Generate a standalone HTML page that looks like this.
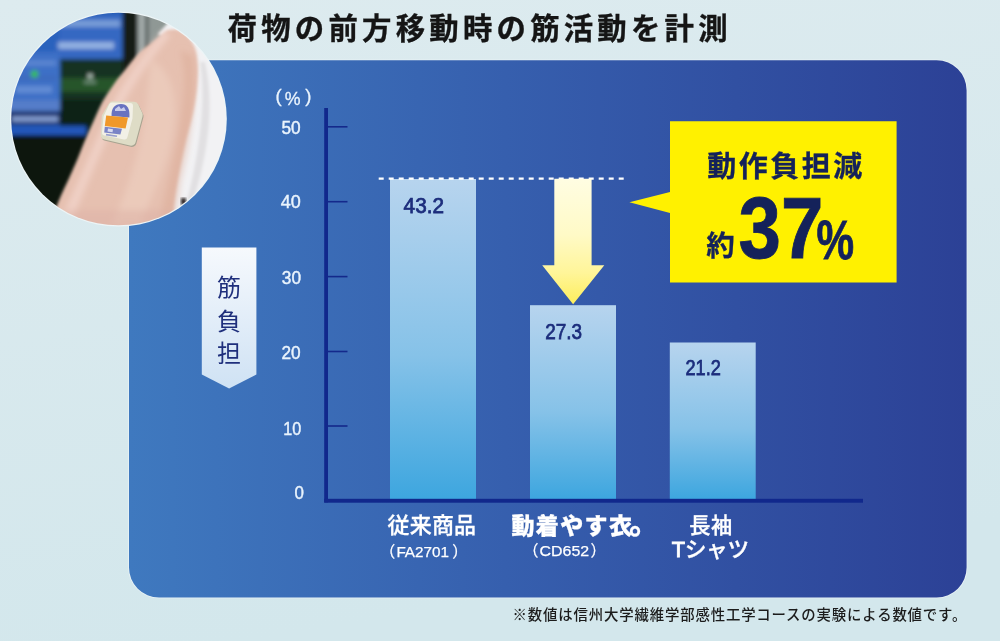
<!DOCTYPE html>
<html lang="ja">
<head>
<meta charset="utf-8">
<title>荷物の前方移動時の筋活動を計測</title>
<style>
  html, body { margin: 0; padding: 0; }
  body { width: 1000px; height: 641px; overflow: hidden; background: #d8e9ee; }
  svg { display: block; }
  text { font-family: "Liberation Sans", "Noto Sans CJK JP", sans-serif; }
  .jp { font-family: "Liberation Sans", "Noto Sans CJK JP", sans-serif; }
  .num { font-family: "Liberation Sans", "Noto Sans CJK JP", sans-serif; }
</style>
</head>
<body>
<svg width="1000" height="641" viewBox="0 0 1000 641">
  <defs>
    <linearGradient id="bgG" x1="0" y1="0" x2="0.25" y2="1">
      <stop offset="0" stop-color="#ddebef"/>
      <stop offset="1" stop-color="#d3e7ec"/>
    </linearGradient>
    <linearGradient id="panelG" x1="0" y1="0" x2="1" y2="0">
      <stop offset="0" stop-color="#3f79bf"/>
      <stop offset="0.45" stop-color="#365fae"/>
      <stop offset="1" stop-color="#2c4196"/>
    </linearGradient>
    <linearGradient id="barG" x1="0" y1="0" x2="0" y2="1">
      <stop offset="0" stop-color="#b7d4ee"/>
      <stop offset="0.55" stop-color="#86c2e8"/>
      <stop offset="1" stop-color="#3da6df"/>
    </linearGradient>
    <linearGradient id="arrowG" x1="0" y1="0" x2="0" y2="1">
      <stop offset="0" stop-color="#fffde2"/>
      <stop offset="0.45" stop-color="#fffac6"/>
      <stop offset="0.75" stop-color="#fff599"/>
      <stop offset="1" stop-color="#fdee5c"/>
    </linearGradient>
    <linearGradient id="tagG" x1="0" y1="0" x2="0" y2="1">
      <stop offset="0" stop-color="#f6f9fd"/>
      <stop offset="1" stop-color="#cfe2f4"/>
    </linearGradient>
    <mask id="photoMask" maskUnits="userSpaceOnUse" x="0" y="0" width="240" height="240"><ellipse cx="118.4" cy="119.05" rx="107.2" ry="106.3" fill="#fff"/></mask>
    <filter id="blur1" x="-20%" y="-20%" width="140%" height="140%"><feGaussianBlur stdDeviation="0.7"/></filter>
    <filter id="blur2" x="-10%" y="-10%" width="120%" height="120%"><feGaussianBlur stdDeviation="1.5"/></filter>
    <filter id="blur3" x="-10%" y="-10%" width="120%" height="120%"><feGaussianBlur stdDeviation="2.2"/></filter>
    <filter id="blur4" x="-10%" y="-10%" width="120%" height="120%"><feGaussianBlur stdDeviation="3"/></filter>
  </defs>

  <!-- page background -->
  <rect x="0" y="0" width="1000" height="641" fill="url(#bgG)"/>

  <!-- blue panel -->
  <path d="M129 60.3 H936.6 A30 30 0 0 1 966.6 90.3 V567.5 A30 30 0 0 1 936.6 597.5 H159 A30 30 0 0 1 129 567.5 Z" fill="url(#panelG)" stroke="#e8f2f5" stroke-width="1.6" paint-order="stroke"/>

  <!-- PHOTO -->
  <g id="photo">
    <ellipse cx="118.4" cy="119.05" rx="108.4" ry="107.5" fill="#edf5f7"/>
    <g mask="url(#photoMask)">
      <rect x="0" y="0" width="240" height="240" fill="#0e1713"/>
      <g filter="url(#blur3)">
        <!-- monitor -->
        <rect x="0" y="0" width="124" height="136" fill="#2c62bd"/>
        <rect x="0" y="0" width="124" height="19" fill="#2258b0"/>
        <rect x="60" y="14" width="64" height="46" fill="#3468c2"/>
        <rect x="52" y="20" width="68" height="7" fill="#8dadde" opacity="0.75"/>
        <rect x="58" y="42" width="56" height="7" fill="#a3bde6" opacity="0.85"/>
        <rect x="18" y="60" width="38" height="6" fill="#7fa2dc" opacity="0.7"/>
        <rect x="10" y="76" width="46" height="4" fill="#274f9e" opacity="0.7"/>
        <rect x="16" y="86" width="36" height="7" fill="#8fb0e4" opacity="0.8"/>
        <rect x="0" y="52" width="60" height="59" fill="#4f7bcd" opacity="0.55"/>
        <rect x="0" y="100" width="60" height="11" fill="#5b81c9" opacity="0.8"/>
        <rect x="0" y="111" width="124" height="14" fill="#17316e"/>
        <rect x="12" y="116.5" width="46" height="5" fill="#9db6e6" opacity="0.85"/>
        <!-- green window -->
        <rect x="60" y="59" width="64" height="64" fill="#163321"/>
        <rect x="60" y="78" width="64" height="14" fill="#2a5a2e" opacity="0.85"/>
        <rect x="60" y="100" width="64" height="36" fill="#0f2018"/>
        <rect x="0" y="126" width="86" height="9" fill="#2456ba"/>
        <circle cx="34.5" cy="74" r="3.6" fill="#35c04a"/>
        <rect x="88" y="74" width="4.5" height="4.5" fill="#c9d6cf" opacity="0.9"/>
        <rect x="84" y="81" width="12" height="2.5" fill="#8fa89a" opacity="0.8"/>
        <!-- dark strip + grey wall -->
        <rect x="122.5" y="0" width="15.5" height="140" fill="#121d18"/>
        <rect x="138" y="0" width="8" height="60" fill="#a3abaa"/>
        <rect x="145.5" y="0" width="3" height="50" fill="#27332d"/>
        <rect x="148" y="0" width="40" height="46" fill="#8f9895"/>
        <rect x="0" y="135" width="130" height="110" fill="#0b1310"/>
      </g>
      <!-- shirt -->
      <g filter="url(#blur2)">
        <path d="M158 34 L172 18 L240 18 L240 240 L158 240 L168 190 L180 140 L186 90 L180 50 Z" fill="#f2f2f4"/>
        <path d="M205 62 C214 100 210 150 192 205 L186 205 C200 150 206 100 200 62 Z" fill="#d6d4d6" opacity="0.6"/>
      </g>
      <!-- arm -->
      <g filter="url(#blur2)">
        <path d="M167.4 30.0 C165.3 31.7 158.9 36.9 155.0 40.0 C151.1 43.1 147.0 45.8 143.7 48.7 C140.4 51.6 138.1 53.9 135.0 57.4 C131.9 60.9 128.3 65.8 125.0 70.0 C121.7 74.2 118.3 77.8 115.0 82.4 C111.7 87.0 107.5 93.3 105.0 97.4 C102.5 101.5 102.0 102.4 99.9 106.8 C97.8 111.2 94.9 118.0 92.4 123.6 C89.9 129.2 87.4 134.6 84.9 140.5 C82.4 146.4 79.9 153.3 77.4 159.2 C74.9 165.1 73.3 168.6 70.0 176.0 C66.7 183.4 61.9 192.9 57.6 203.6 C53.3 214.3 46.3 233.9 44.0 240.0 L170.0 240.0 C170.7 234.3 172.7 215.7 174.0 206.0 C175.3 196.3 175.8 192.0 177.6 182.0 C179.4 172.0 182.4 156.7 184.8 146.0 C187.2 135.3 190.2 125.7 192.0 118.0 C193.8 110.3 194.6 105.7 195.5 100.0 C196.4 94.3 197.0 89.5 197.4 84.0 C197.8 78.5 198.3 72.8 198.0 67.0 C197.7 61.2 197.1 54.4 195.5 49.5 C193.9 44.6 191.5 40.8 188.6 37.5 C185.7 34.2 181.5 31.2 178.0 30.0 C174.5 28.8 169.2 30.0 167.4 30.0 Z" fill="#e6c0b0"/>
      </g>
      <g filter="url(#blur4)">
        <path d="M164 30 C150 46 128 74 112 104 C98 134 80 180 62 216 L72 220 C88 182 106 140 120 110 C134 82 154 54 170 36 Z" fill="#f3d6cc" opacity="0.75"/>
        <path d="M152 60 C172 72 180 100 172 140 C166 170 150 200 140 224 L112 224 C128 190 140 150 144 120 C148 95 148 75 152 60 Z" fill="#efd0c2" opacity="0.6"/>
        <path d="M193 56 C197 90 193 130 181 180 L175 218 L160 218 C168 180 182 130 184 90 C185 75 184 62 180 50 Z" fill="#d8a892" opacity="0.42"/>
        <path d="M56 232 L175 232 L176 210 L66 210 Z" fill="#dbb0a4" opacity="0.45"/>
      </g>
      <rect x="181" y="198" width="5" height="7" fill="#2a2420" filter="url(#blur2)"/>
      <!-- sensor device -->
      <g filter="url(#blur1)">
        <path d="M113 106 L134 106.5 L138 115 L131 141 L105.5 135 L106.5 117 Z" fill="#a8a491" stroke="#a8a491" stroke-width="9.5" stroke-linejoin="round" transform="translate(0.8 1.2)"/>
        <path d="M113 106 L134 106.5 L138 115 L131 141 L105.5 135 L106.5 117 Z" fill="#dedcc6" stroke="#dedcc6" stroke-width="9.5" stroke-linejoin="round"/>
        <path d="M112 105.5 L130 106 L129.5 118 L124.5 136.5 L105 132.5 L106.5 117 Z" fill="#f2f0e6" stroke="#f2f0e6" stroke-width="6" stroke-linejoin="round"/>
        <path d="M111.6 116 C111 108 115 104 121 104 C127 104 130 108 129.4 117.4 Z" fill="#6772c0"/>
        <path d="M115 109 l4 -3 l2 3 l3 -2 l2 4 h-11 z" fill="#d9dcf2" opacity="0.85"/>
        <path d="M106.2 115.6 L128 117.4 L125.6 128.6 L104.8 126 Z" fill="#f0982a"/>
        <path d="M104.8 126.8 L122 128.8 L120.4 134.6 L104.2 132.6 Z" fill="#7a84c6"/>
        <path d="M108 128.6 l5 .6 l-.5 3 l-5 -.6 z" fill="#e3e5f4" opacity="0.9"/>
        <path d="M106 134.6 L117 136.2" stroke="#9aa0cc" stroke-width="1.6"/>
      </g>
    </g>
  </g>

  <!-- title -->
  <text class="jp" x="227.6" y="38.5" font-size="29.4" font-weight="700" fill="#151515" stroke="#151515" stroke-width="0.35" textLength="500" lengthAdjust="spacing">荷物の前方移動時の筋活動を計測</text>

  <!-- chart -->
  <g id="chart">
    <!-- bars -->
    <rect x="390" y="179" width="86" height="320" fill="url(#barG)"/>
    <rect x="530" y="305.2" width="86" height="194" fill="url(#barG)"/>
    <rect x="669.8" y="342.5" width="85.9" height="156.5" fill="url(#barG)"/>

    <!-- axis -->
    <rect x="324.2" y="108" width="3.8" height="394.4" fill="#11288c"/>
    <rect x="324.2" y="498.8" width="538.8" height="3.9" fill="#11288c"/>
    <g fill="#14298b">
      <rect x="328" y="126" width="19.5" height="1.6"/>
      <rect x="328" y="200.9" width="19.5" height="1.6"/>
      <rect x="328" y="275.8" width="19.5" height="1.6"/>
      <rect x="328" y="350.7" width="19.5" height="1.6"/>
      <rect x="328" y="425.2" width="19.5" height="1.6"/>
    </g>

    <!-- y labels -->
    <g class="num" font-size="19" fill="#eaf4fd" stroke="#eaf4fd" stroke-width="0.45">
      <text x="281.5" y="133.5" textLength="19.2" lengthAdjust="spacingAndGlyphs">50</text>
      <text x="280.8" y="207.7" textLength="20" lengthAdjust="spacingAndGlyphs">40</text>
      <text x="281.8" y="283.6" textLength="19.2" lengthAdjust="spacingAndGlyphs">30</text>
      <text x="281.5" y="359" textLength="19.2" lengthAdjust="spacingAndGlyphs">20</text>
      <text x="283.2" y="434.9" textLength="18" lengthAdjust="spacingAndGlyphs">10</text>
      <text x="294.6" y="499.4" textLength="9.4" lengthAdjust="spacingAndGlyphs">0</text>
    </g>
    <text class="num" font-size="18.5" fill="#eaf4fd" stroke="#eaf4fd" stroke-width="0.3"><tspan x="275.4" y="102.3">(</tspan><tspan x="284.8" y="104.5" textLength="15.8" lengthAdjust="spacingAndGlyphs">%</tspan><tspan x="305.2" y="102.3">)</tspan></text>

    <!-- dashed guide -->
    <line x1="378.7" y1="178.7" x2="624.2" y2="178.7" stroke="#ffffff" stroke-width="2.2" stroke-dasharray="5 5"/>

    <!-- down arrow -->
    <path d="M554.3 178.7 H591.6 V265.2 H604.3 L573.1 304.2 L542.2 265.2 H554.3 Z" fill="url(#arrowG)"/>

    <!-- bar values -->
    <g class="num" font-size="21.6" font-weight="400" fill="#1c2d7c" stroke="#1c2d7c" stroke-width="0.75">
      <text x="403.6" y="213.2" textLength="40.4" lengthAdjust="spacingAndGlyphs">43.2</text>
      <text x="545.3" y="339.3" textLength="36.8" lengthAdjust="spacingAndGlyphs">27.3</text>
      <text x="685.5" y="375.4" textLength="35.4" lengthAdjust="spacingAndGlyphs">21.2</text>
    </g>

    <!-- 筋負担 tag -->
    <path d="M201.8 247.6 H256.4 V374.6 L229.1 388.6 L201.8 374.6 Z" fill="url(#tagG)"/>
    <g class="jp" font-size="24" font-weight="400" fill="#1f2f7c" text-anchor="middle">
      <text><tspan x="229" y="296">筋</tspan><tspan x="229" y="329.5">負</tspan><tspan x="229" y="362.4">担</tspan></text>
    </g>

    <!-- callout -->
    <path d="M670 121.2 H896.6 V282.4 H670 V213 L629.4 202.3 L670 192 Z" fill="#fff100"/>
    <text class="jp" x="707.2" y="177.2" font-size="29" font-weight="700" fill="#14225a" stroke="#14225a" stroke-width="0.3" textLength="155" lengthAdjust="spacing">動作負担減</text>
    <text class="jp" font-weight="700" fill="#14225a" stroke="#14225a"><tspan x="706.3" y="256.2" font-size="28.5" stroke-width="0.3">約</tspan><tspan x="738.6" y="258.4" font-size="88" stroke-width="0.9" textLength="84.8" lengthAdjust="spacingAndGlyphs">37</tspan><tspan x="816.6" y="258.8" font-size="56" stroke-width="0.8" textLength="37.6" lengthAdjust="spacingAndGlyphs">%</tspan></text>

    <!-- x labels -->
    <g fill="#ffffff" stroke="#ffffff">
    <text class="jp" x="387.5" y="532.7" font-size="22" font-weight="500" stroke-width="0.3" textLength="88.6" lengthAdjust="spacing">従来商品</text>
    <text class="num" font-size="15.5" font-weight="400" stroke-width="0.25"><tspan x="379.8" y="556.6">（</tspan><tspan x="396.4" y="556.6" textLength="52.6" lengthAdjust="spacingAndGlyphs">FA2701</tspan><tspan x="452.2" y="556.6">）</tspan></text>
    <text class="jp" font-size="23" font-weight="900" stroke-width="0.3"><tspan x="511.5" y="534" textLength="120.4" lengthAdjust="spacing">動着やす衣</tspan><tspan x="629.3" y="532.8" font-size="30">。</tspan></text>
    <text class="num" font-size="15.5" font-weight="400" stroke-width="0.25"><tspan x="523.1" y="556.4">（</tspan><tspan x="539.6" y="556.4" textLength="49.6" lengthAdjust="spacingAndGlyphs">CD652</tspan><tspan x="590.6" y="556.4">）</tspan></text>
    <text class="jp" x="689.2" y="532.6" font-size="21.2" font-weight="500" stroke-width="0.35" textLength="43" lengthAdjust="spacing">長袖</text>
    <text class="jp" x="671.8" y="556.8" font-size="21.7" font-weight="500" stroke-width="0.35" textLength="77.4" lengthAdjust="spacing"><tspan stroke-width="0.85">T</tspan>シャツ</text>
    </g>
  </g>

  <!-- footnote -->
  <text class="jp" x="512.5" y="620.4" font-size="14.4" font-weight="500" fill="#1c1c1c" textLength="453.8" lengthAdjust="spacing">※数値は信州大学繊維学部感性工学コースの実験による数値です。</text>
</svg>
</body>
</html>
